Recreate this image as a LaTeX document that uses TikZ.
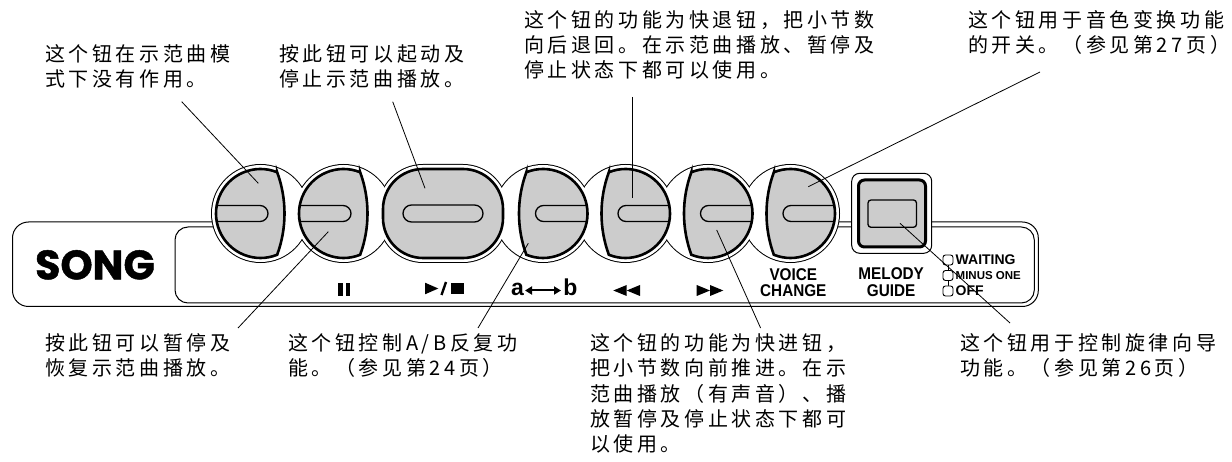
\documentclass[tikz,border=0pt]{standalone}
\usepackage{fontspec}
\usetikzlibrary{arrows.meta}
\newfontfamily\cjk{Noto Sans CJK SC}[LetterSpace=18]
\newfontfamily\lab{Liberation Sans}[FakeStretch=0.9]
\newfontfamily\labn{Liberation Sans}
\newfontfamily\songfont{Poppins}[BoldFeatures={FakeBold=1.2}]
\definecolor{btngray}{gray}{0.8}
\tikzset{
  ringline/.style={draw=black, line width=2pt, fill=white},
  border/.style={draw=black, line width=2.6pt},
  slot/.style={draw=black, line width=1.3pt, fill=btngray},
  frame/.style={draw=black, line width=1pt},
  leader/.style={draw=black, line width=0.8pt},
  cjktext/.style={font=\cjk\fontsize{20}{25}\selectfont, anchor=base west, inner sep=0pt},
  lbl/.style={font=\lab\bfseries\fontsize{17}{17}\selectfont, anchor=base, inner sep=0pt},
  led/.style={draw=black, line width=0.9pt, fill=white, rounded corners=2.5pt},
  ledtext/.style={font=\labn\bfseries\fontsize{14}{14}\selectfont, anchor=base west, inner sep=0pt},
}
% button cut on the right side (left of the big button)
\newcommand\btnR[1]{%
  \begin{scope}
    \clip (#1,213.5) ++(68:44.5pt) arc[start angle=68,end angle=292,radius=44.5pt]
      arc[start angle=-20.15,end angle=20.15,radius=119.8pt] -- cycle;
    \fill[btngray] (#1-60,160) rectangle (#1+60,270);
    \draw[slot, rounded corners=8pt] (#1-70,205.5) rectangle (#1+7.5,221.5);
  \end{scope}
  \draw[border] (#1,213.5) ++(68:44.5pt) arc[start angle=68,end angle=292,radius=44.5pt]
      arc[start angle=-20.15,end angle=20.15,radius=119.8pt] -- cycle;
}
% button cut on the left side (right of the big button)
\newcommand\btnL[1]{%
  \begin{scope}
    \clip (#1,213.5) ++(112:44.5pt) arc[start angle=112,end angle=-112,radius=44.5pt]
      arc[start angle=200.15,end angle=159.85,radius=119.8pt] -- cycle;
    \fill[btngray] (#1-60,160) rectangle (#1+60,270);
    \draw[slot, rounded corners=8pt] (#1-7.5,205.5) rectangle (#1+70,221.5);
  \end{scope}
  \draw[border] (#1,213.5) ++(112:44.5pt) arc[start angle=112,end angle=-112,radius=44.5pt]
      arc[start angle=200.15,end angle=159.85,radius=119.8pt] -- cycle;
}
\begin{document}
\begin{tikzpicture}[x=1pt,y=-1pt]
\useasboundingbox (0,0) rectangle (1232,462);
\fill[white] (0,0) rectangle (1232,462);

% panel frames
\draw[frame, rounded corners=16pt] (12.5,222) rectangle (1038.3,306.5);
\draw[frame, rounded corners=13pt] (175,227) rectangle (1034.3,303);

% ring around the buttons (union outline)
\foreach \cx in {260.5,343.5,543,625.5,708,790.5} {\path[ringline] (\cx,213.5) circle[radius=48.5pt];}
\path[ringline, rounded corners=44pt] (379,165) rectangle (507,262);
\foreach \cx in {260.5,343.5,543,625.5,708,790.5} {\fill[white] (\cx,213.5) circle[radius=48.5pt];}
\fill[white, rounded corners=44pt] (379,165) rectangle (507,262);

% round buttons
\btnR{260.5}
\btnR{343.5}
\btnL{543}
\btnL{625.5}
\btnL{708}
\btnL{790.5}

% big play/stop button
\draw[border, fill=btngray, rounded corners=40pt] (383,169) rectangle (503,258);
\draw[slot, rounded corners=8.5pt] (403,205) rectangle (483,222);

% melody guide button
\draw[line width=1pt, fill=white, rounded corners=8pt] (851.7,173.3) rectangle (931.7,253.3);
\draw[line width=3pt, fill=btngray, rounded corners=6pt] (858.5,180) rectangle (925.5,247);
\draw[line width=1.3pt, fill=btngray, rounded corners=3pt] (868,200) rectangle (916.5,227.3);

% LEDs
\draw[line width=0.9pt] (948,265) -- (948,270.5) (948,280.5) -- (948,286);
\path[led] (943,255) rectangle (953,265);
\path[led] (943,270.5) rectangle (953,280.5);
\path[led] (943,286) rectangle (953,296);
\node[ledtext] (waiting) at (955.5,265) {WAITING};
\node[ledtext, font=\labn\bfseries\fontsize{11.5}{11.5}\selectfont] (minus) at (955.5,280) {MINUS ONE};
\node[ledtext] (off) at (955.5,296) {OFF};

% labels
\node[font=\songfont\bfseries\fontsize{41}{41}\selectfont, anchor=base, inner sep=0pt] (song) at (95,279.3) {SONG};
\node[lbl] (voice) at (793.3,281) {VOICE};
\node[lbl] (change) at (793.3,296.7) {CHANGE};
\node[lbl] (melody) at (891.2,280) {MELODY};
\node[lbl] (guide) at (891.2,296.7) {GUIDE};

% symbols
\fill (338.3,283) rectangle (342.8,296);
\fill (345.5,283) rectangle (350,296);
\fill (425,282.7) -- (438.3,288.5) -- (425,294.3) -- cycle;
\draw[line width=2.4pt] (441.5,295) -- (446,282);
\fill (450.5,282.7) rectangle (464,294.3);
\node[font=\labn\bfseries\fontsize{23}{23}\selectfont, anchor=base west, inner sep=0pt] (la) at (511,296) {a};
\node[font=\labn\bfseries\fontsize{23}{23}\selectfont, anchor=base east, inner sep=0pt] (lb) at (577.5,296) {b};
\draw[line width=2pt, {Triangle[length=7pt,width=8pt]}-{Triangle[length=7pt,width=8pt]}] (525,290.5) -- (561,290.5);
\fill (613.3,290.5) -- (626.7,285) -- (626.7,296) -- cycle;
\fill (626.7,290.5) -- (640,285) -- (640,296) -- cycle;
\fill (696.7,285) -- (710,290.5) -- (696.7,296) -- cycle;
\fill (710,285) -- (723.3,290.5) -- (710,296) -- cycle;

% texts (top)
\node[cjktext] (t1a) at (45,62) {这个钮在示范曲模};
\node[cjktext] (t1b) at (45,87) {式下没有作用。};
\node[cjktext] (t2a) at (279,62) {按此钮可以起动及};
\node[cjktext] (t2b) at (279,87) {停止示范曲播放。};
\node[cjktext] (t3a) at (524,28) {这个钮的功能为快退钮，把小节数};
\node[cjktext] (t3b) at (524,53) {向后退回。在示范曲播放、暂停及};
\node[cjktext] (t3c) at (524,78) {停止状态下都可以使用。};
\node[cjktext] (t4a) at (968,28) {这个钮用于音色变换功能};
\node[cjktext] (t4b) at (968,53) {的开关。（参见第27页）};
% texts (bottom)
\node[cjktext] (t5a) at (45,351) {按此钮可以暂停及};
\node[cjktext] (t5b) at (45,376) {恢复示范曲播放。};
\node[cjktext] (t6a) at (288,351) {这个钮控制A/B反复功};
\node[cjktext] (t6b) at (288,376) {能。（参见第24页）};
\node[cjktext] (t7a) at (590,351) {这个钮的功能为快进钮，};
\node[cjktext] (t7b) at (590,376) {把小节数向前推进。在示};
\node[cjktext] (t7c) at (590,401) {范曲播放（有声音）、播};
\node[cjktext] (t7d) at (590,426) {放暂停及停止状态下都可};
\node[cjktext] (t7e) at (590,451) {以使用。};
\node[cjktext] (t8a) at (960,351) {这个钮用于控制旋律向导};
\node[cjktext] (t8b) at (960,376) {功能。（参见第26页）};

% leader lines
\coordinate (l1a) at (181.7,101.7); \coordinate (l1b) at (258.3,183.3);
\coordinate (l2a) at (392.7,101.7); \coordinate (l2b) at (425,188.3);
\coordinate (l3a) at (632,97);      \coordinate (l3b) at (632,198.3);
\coordinate (l4a) at (1040,72);     \coordinate (l4b) at (808.3,186.7);
\coordinate (l5a) at (328.3,231.7); \coordinate (l5b) at (238,328);
\coordinate (l6a) at (528.3,243.3); \coordinate (l6b) at (478,328);
\coordinate (l7a) at (716.7,230);   \coordinate (l7b) at (760.6,328);
\coordinate (l8a) at (900,223.3);   \coordinate (l8b) at (1010,323);
\draw[leader] (l1a) -- (l1b);
\draw[leader] (l2a) -- (l2b);
\draw[leader] (l3a) -- (l3b);
\draw[leader] (l4a) -- (l4b);
\draw[leader] (l5a) -- (l5b);
\draw[leader] (l6a) -- (l6b);
\draw[leader] (l7a) -- (l7b);
\draw[leader] (l8a) -- (l8b);
\end{tikzpicture}
\end{document}
